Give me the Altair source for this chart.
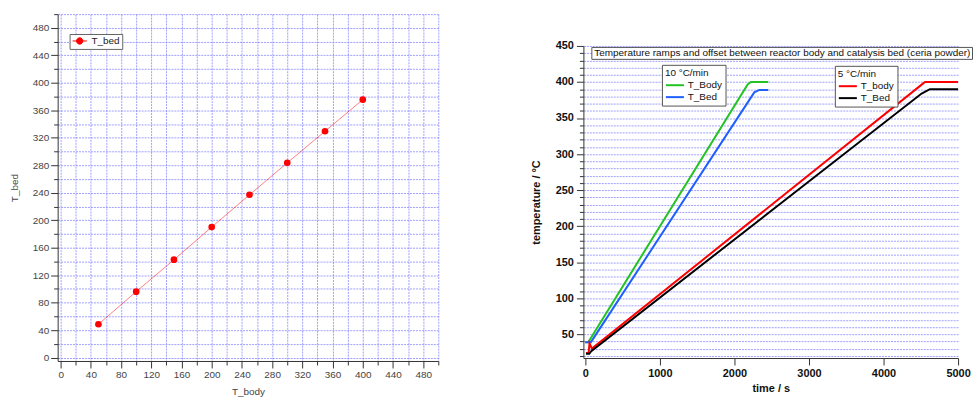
import altair as alt
import pandas as pd

# ---------------- Left panel data ----------------
t_body = [50, 100, 150, 200, 250, 300, 350, 400]
t_bed = [48.5, 96, 142.5, 190, 237, 283.5, 329.5, 375.5]
left_series = "T_bed"

# ---------------- Right panel data ----------------
body10_time = [0, 40, 2180, 2222, 2455]
body10_temp = [39, 39, 397, 400, 400]
bed10_time = [0, 76, 2267, 2333, 2455]
bed10_temp = [39, 39, 385.6, 389, 389]
body5_time = [10, 45, 57, 89, 4520, 4556, 5000]
body5_temp = [24, 24, 37.5, 30, 397, 400, 400]
bed5_time = [10, 53, 80, 4511, 4622, 5000]
bed5_temp = [23, 23, 26.5, 384, 390, 390]

group10_label = "10 °C/min"
group5_label = "5 °C/min"
series10 = ["T_Body", "T_Bed"]
series5 = ["T_body", "T_Bed"]
colors10 = ["#22c322", "#1f5fff"]
colors5 = ["#ff0000", "#000000"]
box_title = "Temperature ramps and offset between reactor body and catalysis bed (ceria powder)"

left_df = pd.DataFrame({"T_body": t_body, "T_bed": t_bed, "series": left_series})

frames = []
for grp, ser, tt, vv in [
    ("10", series10[0], body10_time, body10_temp),
    ("10", series10[1], bed10_time, bed10_temp),
    ("5", series5[0], body5_time, body5_temp),
    ("5", series5[1], bed5_time, bed5_temp),
]:
    frames.append(pd.DataFrame({"time": tt, "temp": vv, "series": ser, "group": grp}))
right_df = pd.concat(frames, ignore_index=True)
title_df = pd.DataFrame({"label": [box_title]})

FONT = "Liberation Sans"
GRID = "#7f7fff"

# ---------------- Left panel ----------------
left_vals = list(range(0, 501, 20))


def left_axis(title, title_pad):
    return alt.Axis(
        values=left_vals,
        labelExpr="datum.value % 40 === 0 ? datum.label : ''",
        title=title,
        grid=True,
        gridColor=GRID,
        gridDash=[2, 1],
        gridOpacity=0.75,
        gridWidth=1,
        tickSize={"condition": {"test": "datum.value % 40 === 0", "value": 7}, "value": 4},
        tickColor="#333333",
        domainColor="#333333",
        labelColor="#444444",
        titleColor="#444444",
        labelFontSize=10,
        titleFontSize=10,
        titleFontWeight="normal",
        labelPadding=2,
        titlePadding=title_pad,
        labelOverlap=False,
        labelFlush=False,
    )


lx = alt.X("T_body:Q", scale=alt.Scale(domain=[-4, 500], nice=False, zero=False),
           axis=left_axis("T_body", 7))
ly = alt.Y("T_bed:Q", scale=alt.Scale(domain=[-5, 500], nice=False, zero=False),
           axis=left_axis("T_bed", 13))
lcolor = alt.Color(
    "series:N",
    scale=alt.Scale(domain=[left_series], range=["#ff0000"]),
    legend=alt.Legend(
        title=None,
        orient="none",
        legendX=12,
        legendY=20,
        symbolType="M-1,0L2.6,0M1.6,0A0.8,0.8,0,1,1,0,0A0.8,0.8,0,1,1,1.6,0Z",
        symbolSize=64,
        symbolFillColor="#ff0000",
        symbolStrokeColor="#ff0000",
        symbolStrokeWidth=1,
        symbolOpacity=1,
        labelFontSize=10,
        labelColor="#222222",
        labelOffset=10,
        strokeColor="#666666",
        fillColor="white",
        padding=2,
    ),
)
lbase = alt.Chart(left_df)
left_line = lbase.mark_line(strokeWidth=1, opacity=0.5).encode(x=lx, y=ly, color=lcolor)
left_pts = lbase.mark_point(filled=True, size=45, opacity=1).encode(x=lx, y=ly, color=lcolor)
left = alt.layer(left_line, left_pts).properties(width=383, height=349)

# ---------------- Right panel ----------------
rx = alt.X(
    "time:Q",
    scale=alt.Scale(domain=[-25, 5000], nice=False, zero=False),
    axis=alt.Axis(
        values=[0, 1000, 2000, 3000, 4000, 5000],
        format="d",
        title="time / s",
        grid=False,
        tickSize=7,
        tickColor="#333333",
        domainColor="#333333",
        labelColor="#111111",
        titleColor="#111111",
        labelFontSize=11,
        labelFontWeight="bold",
        titleFontSize=11,
        titleFontWeight="bold",
        labelPadding=3,
        titlePadding=4,
        labelFlush=False,
    ),
)
ry = alt.Y(
    "temp:Q",
    scale=alt.Scale(domain=[17, 450], nice=False, zero=False),
    axis=alt.Axis(
        values=list(range(20, 451, 10)),
        labelExpr="datum.value % 50 === 0 ? datum.label : ''",
        title="temperature / °C",
        grid=True,
        gridColor=GRID,
        gridDash=[2, 1],
        gridOpacity=0.75,
        tickSize={"condition": {"test": "datum.value % 50 === 0", "value": 7}, "value": 4},
        tickColor="#333333",
        domainColor="#333333",
        labelColor="#111111",
        titleColor="#111111",
        labelFontSize=11,
        labelFontWeight="bold",
        titleFontSize=11,
        titleFontWeight="bold",
        labelPadding=3,
        titlePadding=14,
        labelOverlap=False,
        labelFlush=False,
    ),
)


def series_legend(title, lx_, ly_):
    return alt.Legend(
        title=title,
        orient="none",
        legendX=lx_,
        legendY=ly_,
        titleFontSize=10,
        titleFontWeight="normal",
        titleColor="#111111",
        titlePadding=1,
        labelFontSize=10,
        labelColor="#111111",
        labelOffset=10,
        symbolType="M-1,0L2.3,0",
        symbolStrokeWidth=2,
        symbolSize=121,
        rowPadding=0,
        strokeColor="#555555",
        fillColor="white",
        padding=3,
    )


rbase = alt.Chart(right_df)
layer10 = rbase.transform_filter(alt.datum.group == "10").mark_line(strokeWidth=2).encode(
    x=rx, y=ry,
    color=alt.Color("series:N", scale=alt.Scale(domain=series10, range=colors10),
                    legend=series_legend(group10_label, 79, 19)),
)
layer5 = rbase.transform_filter(alt.datum.group == "5").mark_line(strokeWidth=2).encode(
    x=rx, y=ry,
    color=alt.Color("series:N", scale=alt.Scale(domain=series5, range=colors5),
                    legend=series_legend(group5_label, 253, 20)),
)
title_layer = alt.Chart(title_df).mark_point(opacity=0).encode(
    shape=alt.Shape(
        "label:N",
        legend=alt.Legend(
            title=None,
            orient="none",
            legendX=8,
            legendY=1,
            symbolSize=0,
            symbolOpacity=0,
            labelOffset=alt.expr("-8"),
            labelFontSize=10,
            labelColor="#111111",
            labelLimit=800,
            strokeColor="#555555",
            fillColor="white",
            padding=1,
        ),
    )
)
right = (
    alt.layer(layer10, layer5, title_layer)
    .resolve_scale(color="independent", shape="independent")
    .resolve_legend(color="independent", shape="independent")
    .properties(width=377, height=314)
)

spacer = alt.Chart(pd.DataFrame({"v": [0]})).mark_point(opacity=0).properties(width=377, height=1)
right_col = alt.vconcat(spacer, right, spacing=22).resolve_scale(color="independent", shape="independent")

chart = (
    alt.hconcat(left, right_col, spacing=91)
    .resolve_scale(color="independent", shape="independent")
    .resolve_legend(color="independent", shape="independent")
    .properties(padding={"left": 9, "top": 8, "right": 0, "bottom": 0}, background="white")
    .configure(font=FONT)
    .configure_view(stroke=None)
)

chart.save("out.html", embed_options={"renderer": "svg", "actions": False})
